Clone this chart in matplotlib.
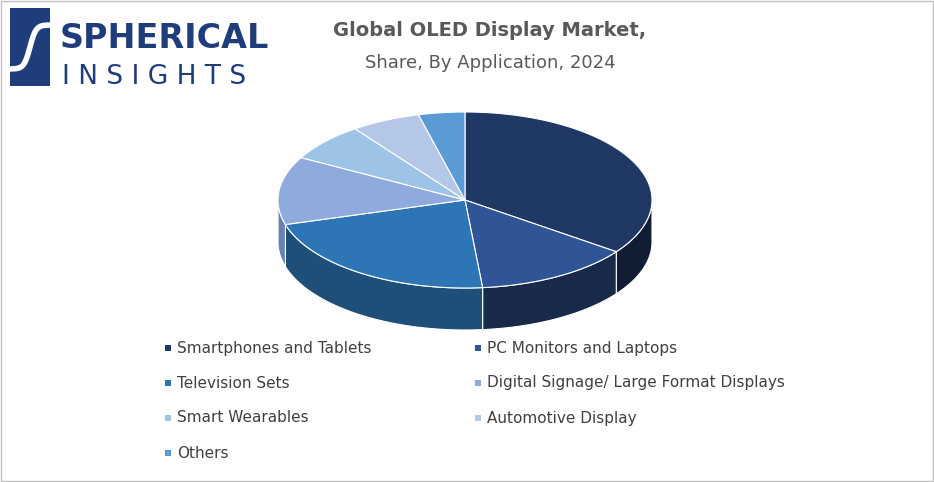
import numpy as np
import matplotlib.pyplot as plt
from matplotlib.patches import Polygon, Rectangle

# data
labels = ['Smartphones and Tablets', 'PC Monitors and Laptops', 'Television Sets',
          'Digital Signage/ Large Format Displays', 'Smart Wearables',
          'Automotive Display', 'Others']
shares = [35.0, 13.5, 22.0, 12.5, 7.0, 6.0, 4.0]
top_colors = ['#1f3864', '#2f5597', '#2e75b6', '#8faadc', '#9dc3e6', '#b4c7e7', '#5b9bd5']
side_colors = ['#111d33', '#18294a', '#1f4e79', '#6a82b0', '#7598b8', '#8a9cbc', '#41729e']

W, H = 934, 482
fig = plt.figure(figsize=(W / 100, H / 100), dpi=100)
ax = fig.add_axes([0, 0, 1, 1])
ax.set_xlim(0, W)
ax.set_ylim(H, 0)
ax.axis('off')

ax.add_patch(Rectangle((0.5, 0.5), W - 1.5, H - 1.5, fill=False, ec='#bfbfbf', lw=1))

cx, cy, rx, ry, depth = 465, 200, 187, 88, 42


def pt(t, dy=0):
    return cx + rx * np.cos(t), cy + ry * np.sin(t) + dy


# angles measured clockwise on screen from 3 o'clock, start at top
total = sum(shares)
bounds = [-90.0]
for s in shares:
    bounds.append(bounds[-1] + 360.0 * s / total)

# sides
for i in range(len(shares)):
    a1, a2 = bounds[i], bounds[i + 1]
    for lo, hi in [(a1, a2), (a1 - 360, a2 - 360)]:
        l, h = max(lo, 0), min(hi, 180)
        if h <= l:
            continue
        t = np.radians(np.linspace(l, h, 60))
        up = [pt(a) for a in t]
        dn = [pt(a, depth) for a in t[::-1]]
        ax.add_patch(Polygon(up + dn, closed=True, fc=side_colors[i], ec='white', lw=0.8))

# tops
for i in range(len(shares)):
    t = np.radians(np.linspace(bounds[i], bounds[i + 1], 80))
    poly = [(cx, cy)] + [pt(a) for a in t]
    ax.add_patch(Polygon(poly, closed=True, fc=top_colors[i], ec='white', lw=0.8))

# titles
ax.text(490, 30, 'Global OLED Display Market,', ha='center', va='center',
        fontsize=14, fontweight='bold', color='#595959')
ax.text(490, 63, 'Share, By Application, 2024', ha='center', va='center',
        fontsize=13, color='#595959')

# legend
pos = [(168, 348), (478, 348), (168, 383), (478, 383), (168, 418), (478, 418), (168, 453)]
for (x, y), lab, c in zip(pos, labels, top_colors):
    ax.add_patch(Rectangle((x - 3, y - 3), 6, 6, fc=c, ec='none'))
    ax.text(x + 9, y, lab, ha='left', va='center', fontsize=11, color='#404040')

# logo
ax.add_patch(Rectangle((10, 8), 40, 78, fc='#1f3d7a', ec='none'))
sx = np.linspace(12, 48, 50)
ax.plot(sx, 47 - 22 * np.tanh((sx - 30) / 6), color='white', lw=4)
ax.text(60, 38, 'SPHERICAL', ha='left', va='center', fontsize=24, fontweight='bold',
        color='#1f3d7a', fontfamily='Liberation Sans Narrow')
ax.text(62, 77, 'I N S I G H T S', ha='left', va='center', fontsize=19,
        color='#1f3d7a')

fig.savefig('out.png', dpi=100)
